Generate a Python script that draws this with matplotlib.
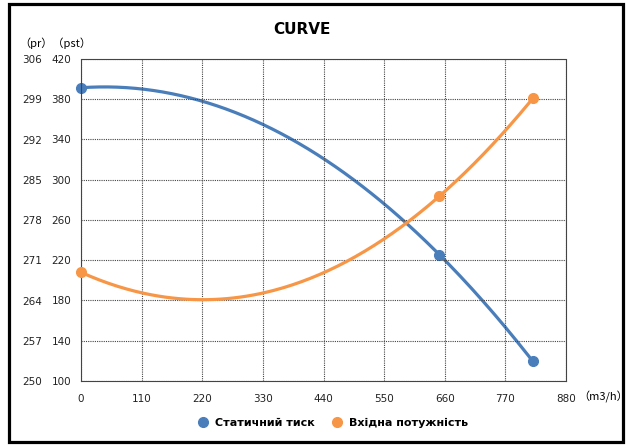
import numpy as np
import matplotlib
matplotlib.use('Agg')
import matplotlib.pyplot as plt
from matplotlib.lines import Line2D
from matplotlib.patches import Rectangle

plt.rcParams['font.family'] = ['DejaVu Sans', 'Noto Sans CJK SC']

###  values
flow = [0, 650, 820]                  #  m3/h
static_pr = [301.0, 272.0, 253.4]     #  left outer axis (pr)
power_pst = [208.0, 283.5, 381.0]     #  left inner axis (pst)

x_ticks = [0, 110, 220, 330, 440, 550, 660, 770, 880]
pr_ticks = [250, 257, 264, 271, 278, 285, 292, 299, 306]
pst_ticks = [100, 140, 180, 220, 260, 300, 340, 380, 420]

series_names = ['Статичний тиск', 'Вхідна потужність']
blue = '#4A7EBB'
orange = '#F79646'

W, H = 630, 448
fig = plt.figure(figsize=(W/100, H/100), dpi=100)

###  plot area in pixels: x 81..566, y 59..381
ax = fig.add_axes([81/W, 1-381/H, 485/W, 322/H])
ax.set_xlim(0, 880)
ax.set_ylim(100, 420)
ax.set_xticks(x_ticks)
ax.set_yticks(pst_ticks)
ax.grid(True, color='#444444', linestyle=(0, (1, 1)), linewidth=0.8)
for s in ax.spines.values():
    s.set_color('#444444')
    s.set_linestyle((0, (1, 1)))
    s.set_linewidth(0.8)
ax.tick_params(length=0, labelsize=7.5, colors='#222222')
ax.tick_params(axis='x', pad=9)
ax.tick_params(axis='y', pad=7)

###  second scale (pr), labels also on the left, further out
ax2 = ax.twinx()
ax2.set_ylim(250, 306)
ax2.set_yticks(pr_ticks)
ax2.tick_params(axis='y', length=0, labelsize=7.5, colors='#222222',
                left=False, right=False, labelleft=True, labelright=False,
                pad=28)
for s in ax2.spines.values():
    s.set_visible(False)

###  smooth curves: 2nd order through the three points
xs = np.linspace(flow[0], flow[-1], 200)
pb = np.polyfit(flow, static_pr, 2)
po = np.polyfit(flow, power_pst, 2)
ax2.plot(xs, np.polyval(pb, xs), color=blue, lw=2.3, zorder=3)
ax2.plot(flow, static_pr, 'o', color=blue, ms=7, zorder=4, clip_on=False)
ax.plot(xs, np.polyval(po, xs), color=orange, lw=2.3, zorder=3)
ax.plot(flow, power_pst, 'o', color=orange, ms=7, zorder=4, clip_on=False)
ax.set_zorder(ax2.get_zorder() + 1)
ax.patch.set_visible(False)

fig.text(302/W, 1-29/H, 'CURVE', fontsize=11, fontweight='bold',
         ha='center', va='center')
fig.text(19/W, 1-43/H, '（pr）（pst）', fontsize=8, ha='left', va='center',
         family=['Noto Sans CJK SC', 'DejaVu Sans'])
fig.text(578/W, 1-397/H, '（m3/h）', fontsize=8, ha='left', va='center',
         family=['Noto Sans CJK SC', 'DejaVu Sans'])

handles = [Line2D([], [], marker='o', ls='', color=blue, ms=7),
           Line2D([], [], marker='o', ls='', color=orange, ms=7)]
fig.legend(handles, series_names, loc='center', ncol=2, frameon=False,
           bbox_to_anchor=(330/W, 1-423/H), handletextpad=0.1,
           columnspacing=1.0, prop={'weight': 'bold', 'size': 8})

fig.patches.append(Rectangle((9/W, 6.5/H), 613.5/W, 437/H, fill=False,
                             edgecolor='black', lw=2.3,
                             transform=fig.transFigure, figure=fig))

fig.savefig('out.png', dpi=100)
